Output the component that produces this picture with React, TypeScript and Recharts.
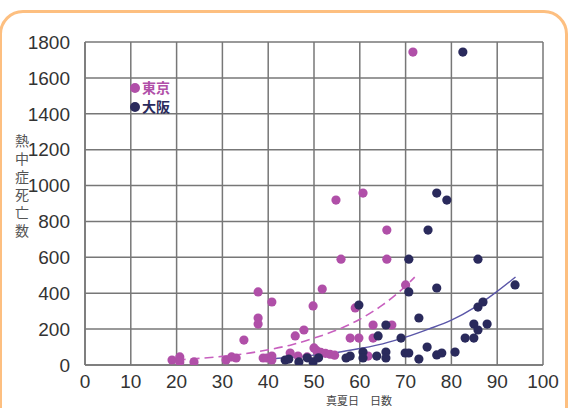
import { ScatterChart, Scatter, XAxis, YAxis, CartesianGrid } from 'recharts';

// 東京: 真夏日日数 / 熱中症死亡数
const tokyoDays = [19, 20.7, 20.7, 23.8, 30.8, 32, 33, 34.7, 37.8, 37.8, 37.8, 38.9, 39.7, 40.8, 40.8, 40.8, 44.8, 45.9, 46.5, 47.8, 49.8, 48.5, 50, 50.6, 51.5, 52.5, 53.5, 54.5, 51.8, 54.8, 55.9, 57.9, 59.8, 59, 60.7, 61.8, 62.9, 62.9, 65.9, 65.9, 67, 70, 71.6];
const tokyoDeaths = [28, 45, 17, 17, 28, 45, 39, 139, 407, 262, 228, 39, 39, 50, 28, 351, 67, 162, 50, 195, 329, 45, 95, 80, 70, 65, 60, 55, 423, 919, 590, 150, 150, 318, 958, 50, 223, 150, 590, 752, 223, 446, 1744];

// 大阪
const osakaDays = [43.7, 44.5, 46.7, 48.5, 49.8, 51, 57, 57.9, 59.8, 60.7, 60.7, 63.7, 64, 65.7, 65.7, 65.7, 69, 69.9, 70.7, 70.7, 70.7, 72.9, 72.9, 74.7, 74.9, 76.8, 76.8, 76.8, 77.9, 79, 80.8, 82.5, 83, 84.9, 84.9, 85.8, 85.8, 85.8, 86.9, 87.8, 93.9];
const osakaDeaths = [28, 33, 17, 40, 17, 40, 39, 50, 334, 72, 39, 50, 162, 223, 72, 39, 150, 67, 67, 407, 590, 262, 33, 100, 752, 429, 958, 56, 67, 919, 72, 1744, 150, 150, 228, 195, 323, 590, 351, 228, 446];

// trend curves
const tokyoTrendX = [20, 25, 30, 35, 40, 45, 50, 55, 60, 65, 70, 72];
const tokyoTrendY = [28, 37, 48, 63, 85, 112, 150, 195, 255, 335, 440, 490];
const osakaTrendX = [41, 45, 50, 55, 60, 65, 70, 75, 80, 85, 90, 94];
const osakaTrendY = [35, 43, 55, 70, 92, 118, 155, 200, 250, 320, 410, 490];

const xTicks = [0, 10, 20, 30, 40, 50, 60, 70, 80, 90, 100];
const yTicks = [0, 200, 400, 600, 800, 1000, 1200, 1400, 1600, 1800];

const TOKYO = '#b04fa8';
const OSAKA = '#2a2a5c';

const zip = (xs: number[], ys: number[]) => xs.map((x, i) => ({ x, y: ys[i] }));

const tokyo = zip(tokyoDays, tokyoDeaths);
const osaka = zip(osakaDays, osakaDeaths);
const tokyoTrend = zip(tokyoTrendX, tokyoTrendY);
const osakaTrend = zip(osakaTrendX, osakaTrendY);

const tickStyle = { fontFamily: "'Liberation Sans Narrow', 'Liberation Sans', Arial, sans-serif", fontSize: 19, fill: '#333' };

const dot = (color: string) => (p: any) => <circle cx={p.cx} cy={p.cy} r={4.6} fill={color} />;
const none = () => <g />;

export default function App() {
  return (
    <div style={{ position: 'absolute', left: 0, top: 0, width: 568, height: 408, overflow: 'hidden', background: '#fff' }}>
      <div style={{ position: 'absolute', left: -1, top: 10, width: 569, height: 440, border: '3px solid #fdbf80', borderRadius: 24, boxSizing: 'border-box' }} />
      <div style={{ position: 'absolute', left: 0, top: 0 }}>
        <ScatterChart width={568} height={430} margin={{ top: 42, right: 25, bottom: 22, left: 0 }}>
          <CartesianGrid stroke="#777" strokeWidth={1.5} />
          <XAxis type="number" dataKey="x" domain={[0, 100]} ticks={xTicks} height={43} tickSize={0} tickMargin={10}
            axisLine={{ stroke: '#777', strokeWidth: 1.5 }} tick={tickStyle} allowDataOverflow />
          <YAxis type="number" dataKey="y" domain={[0, 1800]} ticks={yTicks} width={85} tickSize={0} tickMargin={15}
            axisLine={{ stroke: '#777', strokeWidth: 1.5 }} tick={tickStyle} allowDataOverflow />
          <Scatter data={tokyoTrend} shape={none} line={{ stroke: '#c860bf', strokeWidth: 1.6, strokeDasharray: '9 5' }} lineJointType="monotoneX" isAnimationActive={false} />
          <Scatter data={osakaTrend} shape={none} line={{ stroke: '#5a56a8', strokeWidth: 1.4 }} lineJointType="monotoneX" isAnimationActive={false} />
          <Scatter data={tokyo} shape={dot(TOKYO)} isAnimationActive={false} />
          <Scatter data={osaka} shape={dot(OSAKA)} isAnimationActive={false} />
        </ScatterChart>
      </div>
      <div style={{ position: 'absolute', left: 130, top: 78, fontFamily: "'Noto Sans CJK JP', sans-serif", fontWeight: 700, fontSize: 14, lineHeight: '19px' }}>
        <div style={{ color: TOKYO, display: 'flex', alignItems: 'center' }}>
          <span style={{ display: 'inline-block', width: 10, height: 10, borderRadius: 5, background: TOKYO, marginRight: 2 }} />東京
        </div>
        <div style={{ color: OSAKA, display: 'flex', alignItems: 'center' }}>
          <span style={{ display: 'inline-block', width: 10, height: 10, borderRadius: 5, background: OSAKA, marginRight: 2 }} />大阪
        </div>
      </div>
      <div style={{ position: 'absolute', left: 12, top: 134, writingMode: 'vertical-rl', fontFamily: "'Noto Sans CJK JP', sans-serif", fontSize: 14, letterSpacing: 4, color: '#555' }}>
        熱中症死亡数
      </div>
      <div style={{ position: 'absolute', left: 326, top: 393, fontFamily: "'Noto Sans CJK JP', sans-serif", fontSize: 11, lineHeight: '14px', color: '#444', whiteSpace: 'pre' }}>
        真夏日　日数
      </div>
    </div>
  );
}
